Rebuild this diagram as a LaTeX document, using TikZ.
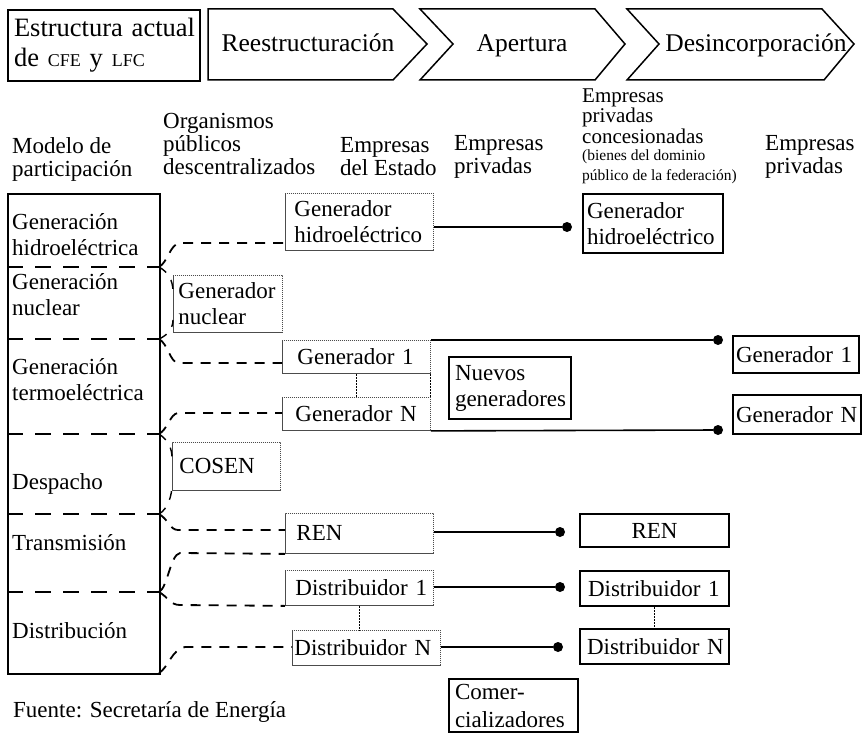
\documentclass[tikz,border=0pt]{standalone}
\usepackage{fontspec}
\setmainfont{Liberation Serif}
\newcommand\mysc[1]{{\fontsize{18}{18}\selectfont #1}}
\begin{document}
\begin{tikzpicture}[x=1pt,y=-1pt,
  every node/.style={font=\fontsize{23}{26}\selectfont, inner sep=0pt},
  hdr/.style={font=\fontsize{23}{23}\selectfont, align=left, anchor=north west},
  htxt/.style={font=\fontsize{25.5}{26}\selectfont, anchor=base},
  lbl/.style={align=left, anchor=north west},
  thick box/.style={draw, line width=2pt, anchor=north west, align=left},
  dot box/.style={draw=black!70, line width=0.9pt, dash pattern=on 1.2pt off 0.8pt, anchor=north west, align=left},
  chev/.style={draw, line width=1.5pt, line join=miter},
  bnd/.style={line width=2.6pt, dash pattern=on 16pt off 12pt},
  dcon/.style={line width=1.8pt, dash pattern=on 10pt off 8pt},
  hook/.style={line width=1.4pt, dash pattern=on 9pt off 9pt},
  conn/.style={line width=1.6pt},
  connthin/.style={line width=1.1pt},
  vlink/.style={line width=1pt, dash pattern=on 2pt off 1pt},
  dot/.style={circle, fill, minimum size=10pt, inner sep=0pt}
]
\useasboundingbox (0,0) rectangle (862,733);

% ---------- header ----------
\node[thick box, font=\fontsize{26.5}{30}\selectfont, minimum width=192, minimum height=71,
      inner xsep=6pt, text width=180] (cur) at (7,9) {\mbox{Estructura actual}\\de \mysc{CFE} y \mysc{LFC}};
\draw[chev] (208,9) -- (393,9) -- (427,44) -- (393,80) -- (208,80) -- cycle;
\draw[chev] (420,9) -- (595,9) -- (625,44) -- (595,80) -- (420,80) -- (453,44) -- cycle;
\draw[chev] (627,9) -- (822,9) -- (854,44) -- (824,80) -- (627,80) -- (659,44) -- cycle;
\node[htxt] (reest) at (308,52) {Reestructuración};
\node[htxt] (aper) at (522,52) {Apertura};
\node[htxt] (desinc) at (756,52) {Desincorporación};

% ---------- column headings ----------
\node[hdr] (h1) at (12,137) {Modelo de\\participación};
\node[hdr] (h2) at (163,113) {Organismos\\públicos\\descentralizados};
\node[hdr] (h3) at (340,137) {Empresas\\del Estado};
\node[hdr] (h4) at (454,135) {Empresas\\privadas};
\node[hdr, font=\fontsize{21}{17.5}\selectfont] (h5a) at (582,89) {Empresas\\privadas\\concesionadas};
\node[hdr, font=\fontsize{15.5}{20}\selectfont] (h5b) at (582,150) {(bienes del dominio\\público de la federación)};
\node[hdr] (h6) at (765,135) {Empresas\\privadas};

% ---------- left column ----------
\node[thick box, minimum width=152, minimum height=480] (mp) at (7,193) {};
\coordinate (b1) at (159,267);
\coordinate (b2) at (159,339);
\coordinate (b3) at (159,434);
\coordinate (b4) at (159,514);
\coordinate (b5) at (159,592);
\coordinate (b6) at (159,673);
\foreach \b in {b1,b2,b3,b4,b5} \draw[bnd] (\b -| mp.west) -- (\b);
\node[lbl] (t1) at (12,213) {Generación\\hidroeléctrica};
\node[lbl] (t2) at (12,273) {Generación\\nuclear};
\node[lbl] (t3) at (12,358) {Generación\\termoeléctrica};
\node[anchor=west] (t4) at (12,484) {Despacho};
\node[anchor=west] (t5) at (12,543) {Transmisión};
\node[anchor=west] (t6) at (12,631) {Distribución};

% ---------- state / public boxes ----------
\node[dot box, minimum width=148, minimum height=57, inner xsep=9pt, text width=130] (gh) at (285,193) {Generador\\\mbox{hidroeléctrico}};
\node[dot box, minimum width=109, minimum height=57, inner xsep=5pt, text width=99] (gn) at (173,275) {\mbox{Generador}\\nuclear};
\node[dot box, minimum width=148, minimum height=33, inner xsep=15pt, text width=118] (g1) at (282,340) {\mbox{Generador 1}};
\node[dot box, minimum width=148, minimum height=33, inner xsep=13pt, text width=122] (gN) at (282,397) {\mbox{Generador N}};
\node[dot box, minimum width=108, minimum height=48, inner xsep=7pt, text width=94] (cosen) at (172,442) {COSEN};
\node[dot box, minimum width=148, minimum height=40, inner xsep=11pt, text width=126] (ren) at (285,513) {REN};
\node[dot box, minimum width=148, minimum height=35, inner xsep=10pt, text width=128] (d1) at (285,570) {\mbox{Distribuidor 1}};
\node[dot box, minimum width=148, minimum height=35, inner xsep=2pt, text width=144] (dN) at (292,630) {\mbox{Distribuidor N}};

% ---------- private boxes ----------
\node[thick box, minimum width=140, minimum height=59, inner xsep=4pt, text width=132] (pgh) at (582,193) {Generador\\\mbox{hidroeléctrico}};
\node[thick box, minimum width=122, minimum height=62, inner xsep=6pt, text width=110] (nuevos) at (448,356) {Nuevos\\\mbox{generadores}};
\node[thick box, minimum width=126, minimum height=37, inner xsep=3pt, text width=120] (pg1) at (732,335) {\mbox{Generador 1}};
\node[thick box, minimum width=128, minimum height=39, inner xsep=3pt, text width=122] (pgN) at (732,394) {\mbox{Generador N}};
\node[thick box, minimum width=149, minimum height=33, align=center, text width=149] (pren) at (579,513) {REN};
\node[thick box, minimum width=149, minimum height=35, inner xsep=8pt, text width=133] (pd1) at (579,570) {\mbox{Distribuidor 1}};
\node[thick box, minimum width=149, minimum height=35, inner xsep=7pt, text width=135] (pdN) at (579,628) {\mbox{Distribuidor N}};
\node[thick box, font=\fontsize{23}{28}\selectfont, minimum width=129, minimum height=53, inner xsep=6pt, text width=117] (com) at (448,678) {Comer-\\\mbox{cializadores}};

\node[anchor=west] (fuente) at (13,712) {Fuente: Secretaría de Energía};

% ---------- solid connectors with dots ----------
\node[dot] (dgh) at (567,227) {};
\node[dot] (dg1) at (718,340) {};
\node[dot] (dgN) at (718,430) {};
\node[dot] (dren) at (560,532) {};
\node[dot] (dd1) at (560,587) {};
\node[dot] (ddN) at (558,647) {};
\draw[conn] (dgh -| gh.east) -- (dgh);
\draw[conn] (g1.north east) -- (dg1);
\draw[conn] (gN.south east) -- (dgN);
\draw[vlink] (g1.south east) -- (gN.north east);
\draw[conn] (dren -| ren.east) -- (dren);
\draw[conn] (dd1 -| d1.east) -- (dd1);
\draw[connthin] (ddN -| dN.east) -- (ddN);
\draw[vlink] (g1.south) -- (gN.north);
\draw[vlink] (d1.south) -- (d1.south |- dN.north);
\draw[vlink] (pd1.south) -- (pdN.north);

% ---------- dashed connectors from the left column ----------
\coordinate (k1) at (180,243);
\coordinate (k3) at (178,363);
\coordinate (k4) at (178,413);
\coordinate (k6) at (178,530);
\coordinate (k7) at (180,553);
\coordinate (k8) at (180,605);
\coordinate (k9) at (185,647);
\draw[dcon] (b1) .. controls (168,262) and (170,244) .. (k1) -- (k1 -| gh.west);
\draw[dcon] (b2) .. controls (168,344) and (170,362) .. (k3) -- (k3 -| g1.west);
\draw[dcon] (b3) .. controls (168,429) and (170,414) .. (k4) -- (k4 -| gN.west);
\draw[dcon] (b4) .. controls (168,519) and (170,530) .. (k6) -- (k6 -| ren.west);
\draw[dcon] (b5) .. controls (168,587) and (170,555) .. (k7) -- (ren.south west);
\draw[dcon] (b5) .. controls (168,597) and (170,605) .. (k8) -- (d1.south west);
\draw[dcon] (b6) .. controls (168,668) and (172,649) .. (k9) -- (k9 -| dN.west);
% brace hooks at the nuclear and dispatch boxes
\coordinate (n1) at (173,292);
\coordinate (n2) at (173,320);
\coordinate (c1) at (172,458);
\coordinate (c2) at (172,485);
\draw[hook] (b1) .. controls (168,272) and (173,280) .. (n1);
\draw[hook] (b2) .. controls (168,335) and (173,328) .. (n2);
\draw[hook] (b3) .. controls (168,440) and (172,448) .. (c1);
\draw[hook] (b4) .. controls (168,509) and (172,495) .. (c2);
\end{tikzpicture}
\end{document}
